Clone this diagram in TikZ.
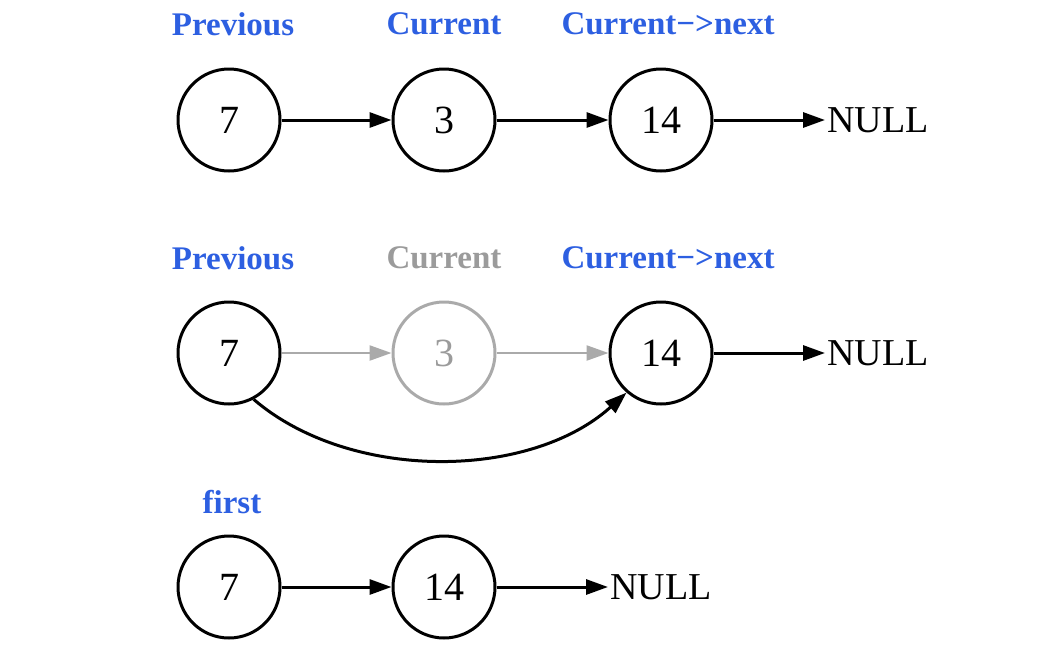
\documentclass[tikz,border=0pt]{standalone}
\usepackage{fontspec}
\setmainfont{Liberation Serif}
\usepackage{xcolor}
\definecolor{ptrblue}{RGB}{45,95,225}
\definecolor{fadegray}{RGB}{155,155,155}
\definecolor{fadegray2}{RGB}{170,170,170}
\usetikzlibrary{arrows.meta}

\begin{document}
\begin{tikzpicture}[x=1pt, y=-1pt,
    listnode/.style={circle, draw=black, line width=3pt, minimum size=102pt, inner sep=0pt,
      font=\fontsize{40}{44}\selectfont},
    ptrlabel/.style={font=\fontsize{33}{38}\selectfont\bfseries, text=ptrblue},
    nulltext/.style={font=\fontsize{38}{42}\selectfont, inner sep=2pt},
    link/.style={-{Triangle[length=22pt,width=15pt]}, line width=3pt}]
  \useasboundingbox (0,0) rectangle (1044,659);

  % Row 1: before removal
  \node[ptrlabel] (lprev1) at (233,24) {Previous};
  \node[ptrlabel] (lcur1) at (444,24) {Current};
  \node[ptrlabel] (lnext1) at (668,24) {Current−>next};
  \node[listnode] (prev1) at (229,120) {7};
  \node[listnode] (cur1) at (444,120) {3};
  \node[listnode] (next1) at (661,120) {14};
  \node[nulltext, anchor=west] (null1) at (825,120) {NULL};
  \draw[link] (prev1) -- (cur1);
  \draw[link] (cur1) -- (next1);
  \draw[link] (next1) -- (null1);

  % Row 2: bypass the current node
  \node[ptrlabel] (lprev2) at (233,258) {Previous};
  \node[ptrlabel, text=fadegray] (lcur2) at (444,258) {Current};
  \node[ptrlabel] (lnext2) at (668,258) {Current−>next};
  \node[listnode] (prev2) at (229,353) {7};
  \node[listnode, draw=fadegray2, text=fadegray] (cur2) at (444,353) {3};
  \node[listnode] (next2) at (661,353) {14};
  \node[nulltext, anchor=west] (null2) at (825,353) {NULL};
  \draw[link, draw=fadegray2, fill=fadegray2, line width=2.4pt] (prev2) -- (cur2);
  \draw[link, draw=fadegray2, fill=fadegray2, line width=2.4pt] (cur2) -- (next2);
  \draw[link] (next2) -- (null2);
  \draw[link] (prev2.-62) .. controls (350,482) and (530,480) .. (next2.-131);

  % Row 3: after removal
  \node[ptrlabel] (lfirst3) at (232,502) {first};
  \node[listnode] (first3) at (229,587) {7};
  \node[listnode] (next3) at (444,587) {14};
  \node[nulltext, anchor=west] (null3) at (608,587) {NULL};
  \draw[link] (first3) -- (next3);
  \draw[link] (next3) -- (null3);
\end{tikzpicture}
\end{document}
